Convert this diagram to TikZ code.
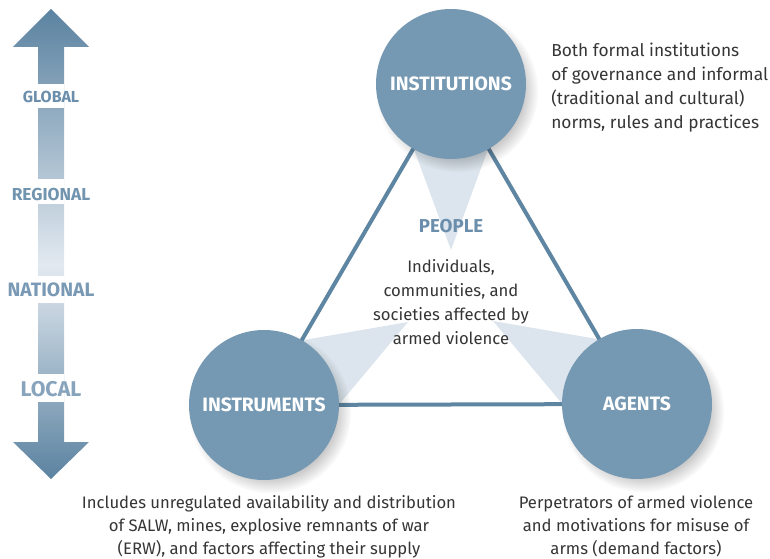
\documentclass[tikz,border=0pt]{standalone}
\usepackage{fontspec}
\setmainfont{Fira Sans}
\usetikzlibrary{fadings}
\definecolor{circ}{HTML}{7699B3}
\definecolor{linec}{HTML}{5E86A2}
\definecolor{funnel}{HTML}{DCE5ED}
\definecolor{txt}{HTML}{353535}
\definecolor{people}{HTML}{6A8EAB}
\definecolor{arrdark}{HTML}{5A82A0}
\definecolor{arrlight}{HTML}{E2E9F0}
\tikzset{
  bigcirc/.style={circle, fill=circ, minimum size=112.5pt, inner sep=0pt, text=white, font=\fontsize{14.5}{16}\selectfont\bfseries},
  tri/.style={draw=linec, line width=3pt},
  fun/.style={fill=funnel},
  shadowc/.style={fill=black, opacity=0.22, path fading=circle with fuzzy edge 20 percent},
  lvl/.style={inner sep=0pt, font=\bfseries},
  body/.style={inner sep=0pt, text=txt, font=\fontsize{12.5}{18}\selectfont},
  bodyr/.style={inner sep=0pt, text=txt, font=\fontsize{13}{18}\selectfont},
  bodyb/.style={inner sep=0pt, text=txt, font=\fontsize{12.5}{17.25}\selectfont}
}
\begin{document}
\begin{tikzpicture}[x=0.75pt, y=-0.75pt]
\useasboundingbox (0,0) rectangle (770,559);
% scale arrow
\begin{scope}
  \path[clip] (51,9) -- (89,47) -- (64,47) -- (64,442) -- (89,442) -- (51,479) -- (13,442) -- (38,442) -- (38,47) -- (13,47) -- cycle;
  \shade[top color=arrdark, bottom color=arrlight] (0,8) rectangle (100,265);
  \shade[top color=arrlight, bottom color=arrdark] (0,265) rectangle (100,480);
  \fill[white] (0,84) rectangle (100,108);
  \fill[white] (0,179) rectangle (100,204);
  \fill[white] (0,276) rectangle (100,303);
  \fill[white] (0,374) rectangle (100,402);
\end{scope}
\node[lvl, text=people, font=\fontsize{12}{13}\selectfont\bfseries] (global) at (51,97) {GLOBAL};
\node[lvl, text=people!95!white, font=\fontsize{13}{14}\selectfont\bfseries] (regional) at (51,194) {REGIONAL};
\node[lvl, text=people!90!white, font=\fontsize{14.5}{16}\selectfont\bfseries] (national) at (51,290) {NATIONAL};
\node[lvl, text=people!80!white, font=\fontsize{16}{18}\selectfont\bfseries] (local) at (51,389) {LOCAL};
% centres
\coordinate (cI) at (451,84);
\coordinate (cS) at (264,405);
\coordinate (cA) at (637,404);
% funnels
\fill[fun] (390,84) -- (512,84) -- (451,250) -- cycle;
\fill[fun] (294.5,457.8) -- (233.5,352.2) -- (408,322) -- cycle;
\fill[fun] (667.5,351.2) -- (606.5,456.8) -- (493,321) -- cycle;
% triangle lines
\draw[tri] (cI) -- (cS) -- (cA) -- cycle;
% shadows
\fill[shadowc] (457,91) circle (61pt);
\fill[shadowc] (270,412) circle (61pt);
\fill[shadowc] (643,411) circle (61pt);
% circles
\node[bigcirc] (inst) at (cI) {INSTITUTIONS};
\node[bigcirc] (instr) at (cS) {INSTRUMENTS};
\node[bigcirc] (agents) at (cA) {AGENTS};
% texts
\node[inner sep=0pt, text=people, font=\fontsize{14}{16}\selectfont\bfseries] (peoplelbl) at (451,226.5) {PEOPLE};
\node[body, align=center, anchor=north] (peopletxt) at (451,259) {Individuals,\\communities, and\\societies affected by\\armed violence};
\node[bodyr, align=left, anchor=north west] (insttxt) at (551,43) {Both formal institutions\\of governance and informal\\(traditional and cultural)\\norms, rules and practices};
\node[bodyb, align=center, anchor=north] (instrtxt) at (269,495) {Includes unregulated availability and distribution\\of SALW, mines, explosive remnants of war\\(ERW), and factors affecting their supply};
\node[bodyb, align=center, anchor=north] (agentstxt) at (636,495) {Perpetrators of armed violence\\and motivations for misuse of\\arms (demand factors)};
\end{tikzpicture}
\end{document}
